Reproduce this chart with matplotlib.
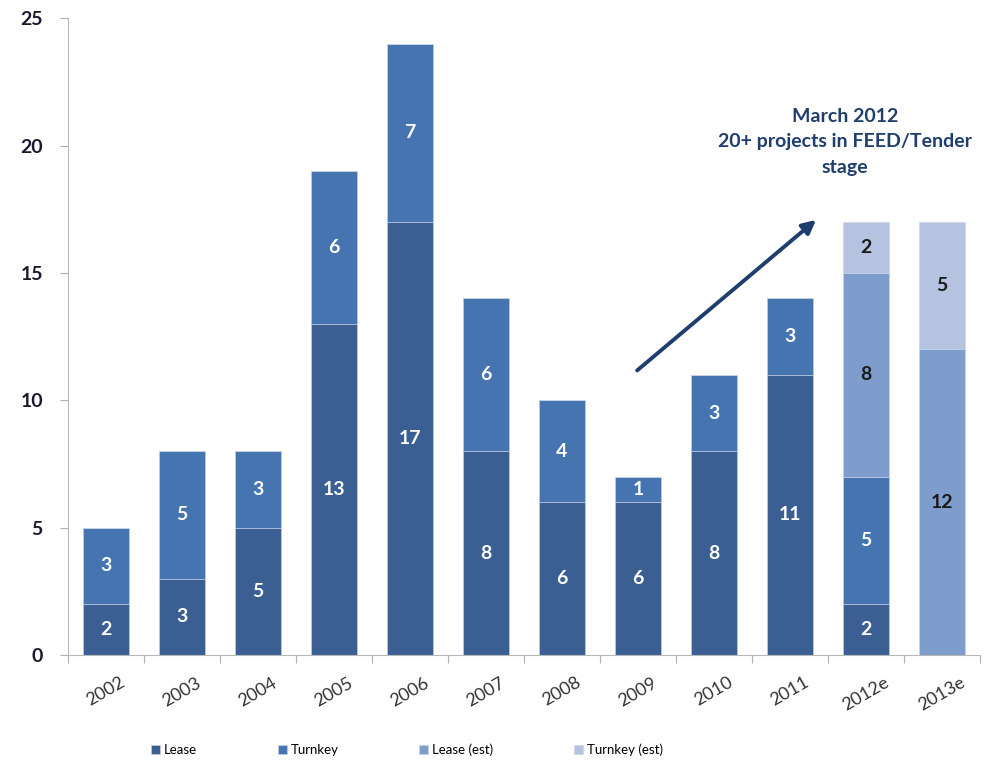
import numpy as np
import matplotlib
matplotlib.use('Agg')
import matplotlib.pyplot as plt

plt.rcParams['font.family'] = ['Lato', 'DejaVu Sans']

years = ['2002', '2003', '2004', '2005', '2006', '2007', '2008', '2009',
         '2010', '2011', '2012e', '2013e']
lease = [2, 3, 5, 13, 17, 8, 6, 6, 8, 11, 2, 0]
turnkey = [3, 5, 3, 6, 7, 6, 4, 1, 3, 3, 5, 0]
lease_est = [0, 0, 0, 0, 0, 0, 0, 0, 0, 0, 8, 12]
turnkey_est = [0, 0, 0, 0, 0, 0, 0, 0, 0, 0, 2, 5]

series = [
    ('Lease', lease, '#3C5F93', 'white'),
    ('Turnkey', turnkey, '#4674B0', 'white'),
    ('Lease (est)', lease_est, '#7E9DCC', '#1a1a1a'),
    ('Turnkey (est)', turnkey_est, '#B5C3E0', '#1a1a1a'),
]

fig = plt.figure(figsize=(9.92, 7.72), dpi=100)
ax = fig.add_axes([0.0685, 0.1515, 0.9195, 0.825])

x = np.arange(len(years))
bottom = np.zeros(len(years))
for name, vals, color, txt_color in series:
    vals = np.array(vals, dtype=float)
    ax.bar(x, vals, 0.61, bottom=bottom, color=color, label=name,
           edgecolor='#c9d3e6', linewidth=0.4)
    for xi, b, v in zip(x, bottom, vals):
        if v > 0:
            ax.text(xi, b + v / 2, f'{int(v)}', ha='center', va='center',
                    color=txt_color, fontsize=14, fontweight='bold')
    bottom += vals

ax.set_xlim(-0.5, len(years) - 0.5)
ax.set_ylim(0, 25)
ax.set_yticks([0, 5, 10, 15, 20, 25])
ax.set_xticks(np.arange(len(years) + 1) - 0.5, minor=False)
ax.set_xticklabels([])
ax.set_xticks(x, minor=True)
ax.set_xticklabels(years, minor=True, rotation=30, fontsize=13,
                   color='#333333')
ax.tick_params(axis='x', which='minor', length=0, pad=14)
ax.tick_params(axis='x', which='major', length=6, color='#b0b0b0')
ax.tick_params(axis='y', length=6, color='#b0b0b0', pad=12)
for lbl in ax.get_yticklabels():
    lbl.set_fontsize(14)
    lbl.set_fontweight('bold')
    lbl.set_color('#1a1a2e')

for s in ['top', 'right']:
    ax.spines[s].set_visible(False)
ax.spines['left'].set_color('#b8b8b8')
ax.spines['bottom'].set_color('#b8b8b8')

# outlook note and arrow
ax.annotate('', xy=(9.37, 17.15), xytext=(6.96, 11.1),
            arrowprops=dict(arrowstyle='-|>', color='#1F3E6E', lw=2.8,
                            mutation_scale=20))
ax.text(9.72, 20.15, 'March 2012\n20+ projects in FEED/Tender\nstage',
        ha='center', va='center', fontsize=14, fontweight='bold',
        color='#1F3E6E', linespacing=1.6)

fig.legend(loc='lower left', bbox_to_anchor=(0.14, 0.005), ncol=4,
           frameon=False, fontsize=9.5, handlelength=0.7, handleheight=0.7,
           handletextpad=0.3, columnspacing=6.1)

fig.savefig('out.png', dpi=100, facecolor='white')
